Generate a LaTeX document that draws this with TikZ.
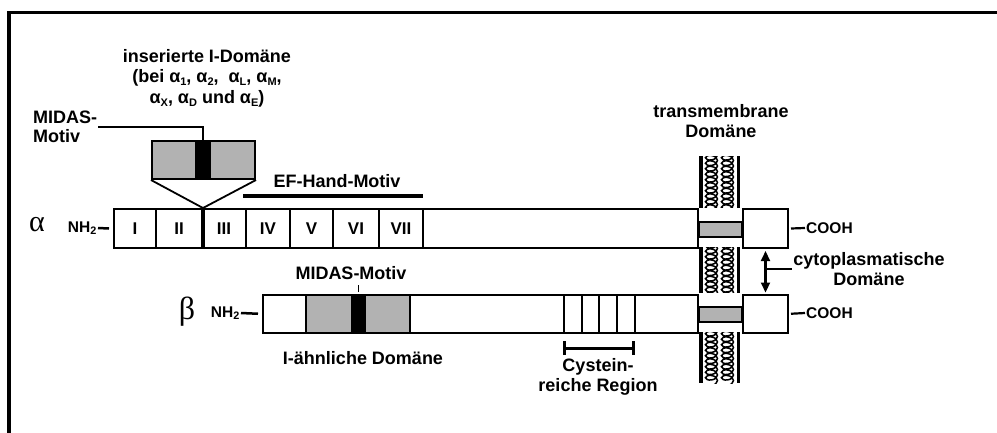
\documentclass[tikz,border=0pt]{standalone}
\usepackage{fontspec}
\setmainfont{Liberation Sans}
\newfontfamily\grk{Liberation Serif}
\usetikzlibrary{decorations.pathmorphing,arrows.meta}
\definecolor{dgray}{RGB}{178,178,178}
\newcommand\lowsub[1]{\raisebox{-0.18em}{\fontsize{11}{11}\selectfont #1}}
\begin{document}
\begin{tikzpicture}[x=1pt,y=-1pt,
  lab/.style={font=\fontsize{18}{19.5}\selectfont\bfseries, align=center, inner sep=1pt},
  smlab/.style={font=\fontsize{15.5}{17}\selectfont\bfseries, inner sep=1pt},
  seg/.style={draw, line width=2pt, inner sep=0, anchor=north west, font=\fontsize{17}{19}\selectfont\bfseries},
  gseg/.style={seg, fill=dgray},
  kseg/.style={seg, fill=black},
  thin/.style={line width=2pt},
]
\useasboundingbox (0,0) rectangle (997,432);
% frame
\draw[line width=3.2pt] (9,433) -- (9,12.5) -- (998,12.5);

% membrane
\node[inner sep=0, minimum width=37pt, minimum height=227pt, anchor=north west] (mem) at (701,156) {};
\begin{scope}
\clip (mem.north west) rectangle (mem.south east);
\foreach \x in {711.5,727.5}
  \draw[line width=1.5pt, decorate, decoration={coil, amplitude=6pt, segment length=5.5pt, aspect=0.6}] (\x,150) -- (\x,390);
\end{scope}
\draw[line width=3.5pt] (mem.north west) -- (mem.south west);
\draw[line width=3.5pt] (mem.north east) -- (mem.south east);
\fill[white] (699,208) rectangle (740,247);
\fill[white] (699,293) rectangle (740,332);

% alpha chain
\node[seg, minimum width=42pt, minimum height=39pt] (a1) at (113,208) {I};
\node[seg, minimum width=46pt, minimum height=39pt] (a2) at (155,208) {II};
\node[seg, minimum width=44pt, minimum height=39pt] (a3) at (201,208) {III};
\node[seg, minimum width=44pt, minimum height=39pt] (a4) at (245,208) {IV};
\node[seg, minimum width=43pt, minimum height=39pt] (a5) at (289,208) {V};
\node[seg, minimum width=46pt, minimum height=39pt] (a6) at (332,208) {VI};
\node[seg, minimum width=44pt, minimum height=39pt] (a7) at (378,208) {VII};
\node[seg, minimum width=275pt, minimum height=39pt] (a8) at (422,208) {};
\node[gseg, minimum width=43pt, minimum height=15pt] (tmA) at (698,221) {};
\node[seg, minimum width=45pt, minimum height=39pt] (aC) at (742,208) {};
\draw[line width=3pt] (a2.north east) -- (a2.south east);

% inserted I domain
\node[gseg, minimum width=44pt, minimum height=38pt] (i1) at (151,140) {};
\node[kseg, minimum width=14pt, minimum height=38pt] (iM) at (195,140) {};
\node[gseg, minimum width=45pt, minimum height=38pt] (i2) at (209,140) {};
\draw[line width=1.8pt] (i1.south west) -- (a2.north east) -- (i2.south east);

\node[lab, font=\fontsize{18}{20.5}\selectfont\bfseries] (ins) at (207,78) {inserierte I-Domäne\\(bei α\lowsub{1}, α\lowsub{2}, \ α\lowsub{L}, α\lowsub{M},\\α\lowsub{X}, α\lowsub{D} und α\lowsub{E})};
\node[lab, align=left, anchor=west] (midas) at (32,127) {MIDAS-\\Motiv};
\draw[thin] (midas.east) -| (iM.north);

% EF hand
\coordinate (efL) at (243,196);
\coordinate (efR) at (423,196);
\draw[line width=3.5pt] (efL) -- (efR);
\node[lab] (ef) at (337,181) {EF-Hand-Motiv};

% alpha labels
\node[inner sep=0, font=\grk\fontsize{30}{30}\selectfont] (alpha) at (37,225) {α};
\node[smlab, anchor=east] (nhA) at (98,228) {NH\textsubscript{2}};
\draw[line width=2.5pt] (nhA.east) -- ([xshift=-4pt]a1.west);
\node[smlab, anchor=west] (cooA) at (805,228) {COOH};
\draw[line width=2.2pt] ([xshift=2pt]aC.east) -- (cooA.west);

% beta chain
\node[seg, minimum width=43pt, minimum height=38.5pt] (b0) at (262,293.5) {};
\node[gseg, minimum width=46pt, minimum height=38.5pt] (bG1) at (305,293.5) {};
\node[kseg, minimum width=13pt, minimum height=38.5pt] (bM) at (351,293.5) {};
\node[gseg, minimum width=45pt, minimum height=38.5pt] (bG2) at (364,293.5) {};
\node[seg, minimum width=154pt, minimum height=38.5pt] (b1) at (409,293.5) {};
\node[seg, minimum width=18pt, minimum height=38.5pt] (c1) at (563,293.5) {};
\node[seg, minimum width=17pt, minimum height=38.5pt] (c2) at (581,293.5) {};
\node[seg, minimum width=18pt, minimum height=38.5pt] (c3) at (598,293.5) {};
\node[seg, minimum width=18pt, minimum height=38.5pt] (c4) at (616,293.5) {};
\node[seg, minimum width=63pt, minimum height=38.5pt] (b6) at (634,293.5) {};
\node[gseg, minimum width=43pt, minimum height=15pt] (tmB) at (698,306) {};
\node[seg, minimum width=45pt, minimum height=38.5pt] (bC) at (742,293.5) {};

\node[inner sep=0, font=\grk\fontsize{32}{32}\selectfont] (beta) at (187,312) {β};
\node[smlab, anchor=east] (nhB) at (241,313) {NH\textsubscript{2}};
\draw[line width=2.5pt] (nhB.east) -- ([xshift=-4pt]b0.west);
\node[smlab, anchor=west] (cooB) at (805,313) {COOH};
\draw[line width=2.2pt] ([xshift=2pt]bC.east) -- (cooB.west);

\node[lab] (bmid) at (351,273) {MIDAS-Motiv};
\draw[line width=1.5pt] ([yshift=1.5pt]bM.north) -- ([yshift=8.5pt]bM.north);
\node[lab] (ilike) at (363,358) {I-ähnliche Domäne};

% cysteine
\coordinate (cyL) at (562.5,348);
\coordinate (cyR) at (634.5,348);
\draw[line width=3pt, {Bar[width=14pt]}-{Bar[width=14pt]}] (cyL) -- (cyR);
\node[lab] (cys) at (598,377) {Cystein-\\reiche Region};

% transmembrane label
\node[lab] (tml) at (721,121) {transmembrane\\Domäne};

% cytoplasmic
\node[lab] (cyto) at (869,269) {cytoplasmatische\\Domäne};
\draw[line width=2.2pt, {Triangle[width=9pt,length=10pt]}-{Triangle[width=9pt,length=10pt]}] ([yshift=-2pt]aC.south) -- ([yshift=1pt]bC.north);
\draw[line width=1.8pt] (aC.south |- cyto.west) -- (cyto.west);
\end{tikzpicture}
\end{document}
